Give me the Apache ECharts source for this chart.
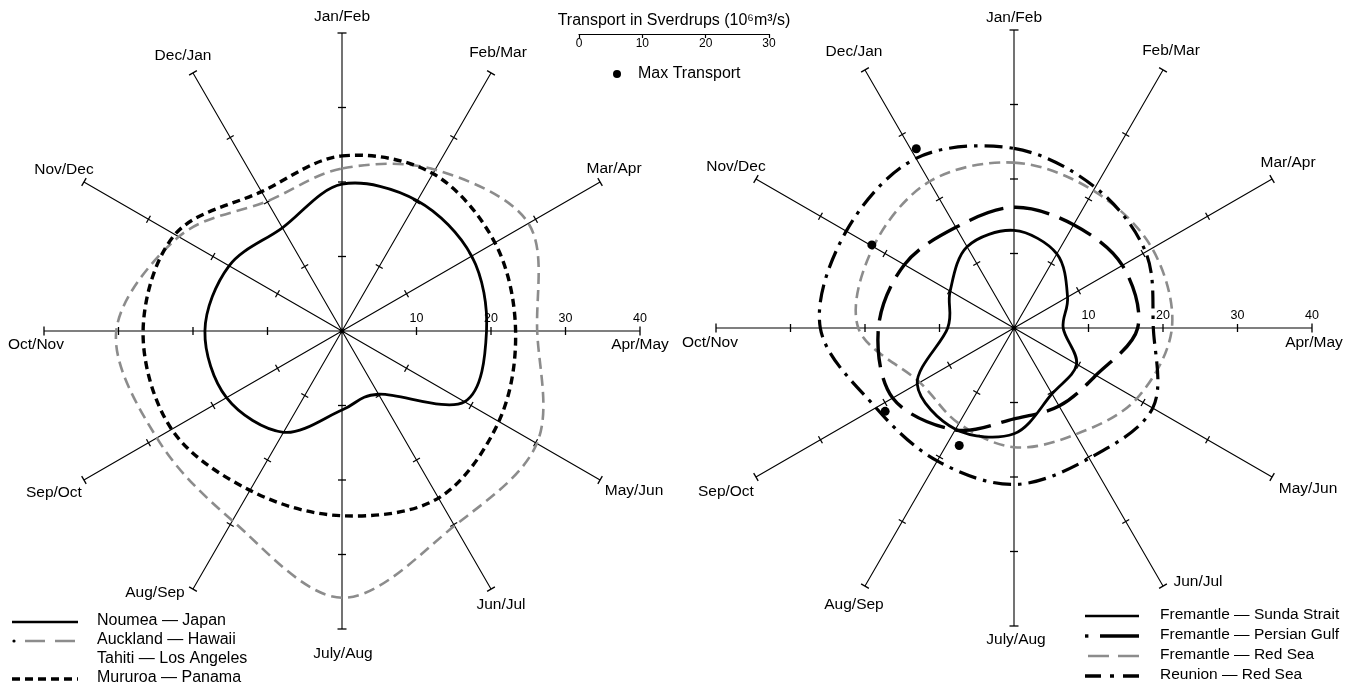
<!DOCTYPE html>
<html>
<head>
<meta charset="utf-8">
<title>Transport in Sverdrups</title>
<script src="https://cdn.jsdelivr.net/npm/echarts@6.0.0/dist/echarts.min.js"></script>
<style>
  html, body { margin: 0; padding: 0; background: #ffffff; }
  #chart { width: 1348px; height: 688px; }
</style>
</head>
<body>
<div id="chart"></div>
<script>
// Two-month periods, one spoke each, clockwise from the top
const months = ['Jan/Feb', 'Feb/Mar', 'Mar/Apr', 'Apr/May', 'May/Jun', 'Jun/Jul',
                'July/Aug', 'Aug/Sep', 'Sep/Oct', 'Oct/Nov', 'Nov/Dec', 'Dec/Jan'];
// Spoke direction in degrees, counter-clockwise from the right-hand axis
const monthAngles = [90, 60, 30, 0, 330, 300, 270, 240, 210, 180, 150, 120];

// Radial ticks / labels (Sverdrups) and the scale bar at the top
const radiusTicks = [10, 20, 30, 40];
const scaleTicks = [0, 10, 20, 30];

// Pacific routes (left rose), Sverdrups per period
const noumeaJapan    = [19.7, 20.2, 20.1, 19.4, 19.0, 9.8, 10.6, 15.7, 17.9, 18.4, 17.5, 16.0];
const aucklandHawaii = [21.8, 25.0, 28.9, 26.2, 30.2, 30.2, 35.8, 29.4, 28.7, 30.3, 25.3, 20.1];
const mururoaPanama  = [23.5, 24.4, 23.7, 23.3, 24.3, 25.9, 24.8, 24.7, 26.4, 26.7, 25.9, 21.6];

// Indian Ocean routes (right rose), Sverdrups per period
const fremantleSunda   = [13.1, 11.5, 8.3, 6.6, 9.7, 10.2, 14.2, 15.7, 15.0, 8.9, 9.9, 12.6];
const fremantlePersian = [16.2, 16.0, 16.8, 16.6, 12.7, 12.1, 12.2, 15.8, 18.8, 18.2, 17.0, 15.6];
const fremantleRedSea  = [22.2, 21.3, 21.4, 21.2, 19.0, 16.5, 16.0, 14.8, 14.6, 20.9, 21.8, 22.7];
const reunionRedSea    = [24.1, 21.8, 20.4, 18.7, 21.5, 20.2, 21.0, 20.6, 21.4, 26.0, 26.0, 26.3];

// Maximum transport markers: [Sverdrups, angle]
const maxTransport = [[27.4, 118.6], [22.1, 149.7], [20.6, 212.9], [17.4, 245.0]];

// Legend captions
const leftLegend = ['Noumea \u2014 Japan', 'Auckland \u2014 Hawaii', 'Tahiti \u2014 Los Angeles', 'Mururoa \u2014 Panama'];
const rightLegend = ['Fremantle \u2014 Sunda Strait', 'Fremantle \u2014 Persian Gulf', 'Fremantle \u2014 Red Sea', 'Reunion \u2014 Red Sea'];

const FONT = "'Liberation Sans', Arial, Helvetica, sans-serif";
const INK = '#000000';
const GREY = '#8c8c8c';
const R_MAX = radiusTicks[radiusTicks.length - 1];

// Month label placement around each rose: offset of text centre from spoke end
const leftLabelOffsets = [[0, -16], [7, -20], [14, -13], [0, 14], [34, 11], [10, 16],
                          [1, 25], [-38, 4], [-30, 13], [-8, 14], [-20, -12], [-10, -17]];
const rightLabelOffsets = [[0, -12], [8, -19], [16, -16], [2, 15], [36, 12], [35, -4],
                           [2, 14], [-11, 19], [-30, 15], [-6, 15], [-20, -12], [-11, -18]];

const chart = echarts.init(document.getElementById('chart'), null, { renderer: 'canvas' });

// Closed smooth loop through the monthly values (Catmull-Rom as cubic Béziers),
// positioned through the polar coordinate system.
function loopSeries(name, values, polarIndex, lineStyle) {
  return {
    type: 'custom',
    name: name,
    coordinateSystem: 'polar',
    polarIndex: polarIndex,
    data: values.map((v, i) => [v, monthAngles[i]]),
    renderItem: function (params, api) {
      if (params.dataIndex !== 0) return null;
      const pts = values.map((v, i) => api.coord([v, monthAngles[i]]));
      const n = pts.length;
      const f = (p) => p[0].toFixed(2) + ' ' + p[1].toFixed(2);
      let d = 'M' + f(pts[0]);
      for (let i = 0; i < n; i++) {
        const p0 = pts[(i - 1 + n) % n], p1 = pts[i], p2 = pts[(i + 1) % n], p3 = pts[(i + 2) % n];
        const c1 = [p1[0] + (p2[0] - p0[0]) / 6, p1[1] + (p2[1] - p0[1]) / 6];
        const c2 = [p2[0] - (p3[0] - p1[0]) / 6, p2[1] - (p3[1] - p1[1]) / 6];
        d += ' C' + f(c1) + ' ' + f(c2) + ' ' + f(p2);
      }
      d += ' Z';
      return {
        type: 'path',
        shape: { pathData: d },
        style: Object.assign({ fill: 'none', lineCap: 'butt', lineJoin: 'round' }, lineStyle),
        silent: true
      };
    },
    z: 5,
    silent: true
  };
}

// Cross ticks on every spoke, plus the end cap at the outer value
function spokeTicks(polarIndex) {
  const data = [];
  monthAngles.forEach((a) => radiusTicks.forEach((r) => data.push([r, a])));
  return {
    type: 'custom',
    coordinateSystem: 'polar',
    polarIndex: polarIndex,
    data: data,
    silent: true,
    z: 3,
    renderItem: function (params, api) {
      const r = api.value(0);
      const p = api.coord([r, api.value(1)]);
      const cs = params.coordSys;
      const dx = p[0] - cs.cx, dy = p[1] - cs.cy;
      const len = Math.sqrt(dx * dx + dy * dy) || 1;
      const nx = -dy / len, ny = dx / len;
      const half = r === R_MAX ? 4.5 : 4;
      return {
        type: 'line',
        shape: { x1: p[0] - nx * half, y1: p[1] - ny * half, x2: p[0] + nx * half, y2: p[1] + ny * half },
        style: { stroke: INK, lineWidth: 1.3 }
      };
    }
  };
}

// Period names at the outer end of each spoke
function monthLabels(polarIndex, offsets) {
  return {
    type: 'custom',
    coordinateSystem: 'polar',
    polarIndex: polarIndex,
    data: months.map((m, i) => [R_MAX, monthAngles[i]]),
    silent: true,
    z: 4,
    renderItem: function (params, api) {
      const i = params.dataIndex;
      const p = api.coord([api.value(0), api.value(1)]);
      return {
        type: 'text',
        x: p[0] + offsets[i][0],
        y: p[1] + offsets[i][1],
        style: {
          text: months[i],
          fill: INK,
          font: '15.5px ' + FONT,
          align: 'center',
          verticalAlign: 'middle'
        }
      };
    }
  };
}

function angleAxisFor(polarIndex) {
  return {
    polarIndex: polarIndex,
    type: 'value',
    min: 0,
    max: 360,
    interval: 30,
    startAngle: 0,
    clockwise: false,
    axisLine: { show: false },
    axisTick: { show: false },
    axisLabel: { show: false },
    splitLine: { show: true, lineStyle: { color: INK, width: 1.1 } }
  };
}

function radiusAxisFor(polarIndex) {
  return {
    polarIndex: polarIndex,
    type: 'value',
    min: 0,
    max: R_MAX,
    interval: radiusTicks[1] - radiusTicks[0],
    axisLine: { show: false },
    axisTick: { show: false },
    splitLine: { show: false },
    axisLabel: {
      show: true,
      margin: 6,
      color: INK,
      fontFamily: FONT,
      fontSize: 12.5,
      formatter: (v) => (radiusTicks.indexOf(v) >= 0 ? String(v) : '')
    },
    z: 6
  };
}

// Legend captions as text rows
function legendText(items, textX, rows, size) {
  return items.map((txt, i) => ({
    type: 'text', left: textX, top: rows[i] - 9,
    style: { text: txt, fill: INK, font: size + 'px ' + FONT }
  }));
}

const leftRows = [622, 641, 660, 679];
const rightRows = [616, 636, 656, 676];

const legendSamples = [
  // Noumea — Japan
  { type: 'line', shape: { x1: 12, y1: leftRows[0], x2: 78, y2: leftRows[0] }, style: { stroke: INK, lineWidth: 2.6 } },
  // Auckland — Hawaii
  { type: 'circle', shape: { cx: 14, cy: leftRows[1], r: 1.6 }, style: { fill: INK } },
  { type: 'line', shape: { x1: 25, y1: leftRows[1], x2: 78, y2: leftRows[1] }, style: { stroke: GREY, lineWidth: 2.6, lineDash: [20, 10] } },
  // Mururoa — Panama
  { type: 'line', shape: { x1: 12, y1: leftRows[3], x2: 78, y2: leftRows[3] }, style: { stroke: INK, lineWidth: 3.4, lineDash: [8, 5] } },
  // Fremantle — Sunda Strait
  { type: 'line', shape: { x1: 1085, y1: rightRows[0], x2: 1139, y2: rightRows[0] }, style: { stroke: INK, lineWidth: 2.6 } },
  // Fremantle — Persian Gulf
  { type: 'rect', shape: { x: 1085, y: rightRows[1] - 1.7, width: 3.4, height: 3.4 }, style: { fill: INK } },
  { type: 'line', shape: { x1: 1100, y1: rightRows[1], x2: 1139, y2: rightRows[1] }, style: { stroke: INK, lineWidth: 3.4 } },
  // Fremantle — Red Sea
  { type: 'line', shape: { x1: 1088, y1: rightRows[2], x2: 1139, y2: rightRows[2] }, style: { stroke: GREY, lineWidth: 2.6, lineDash: [21, 9] } },
  // Reunion — Red Sea
  { type: 'line', shape: { x1: 1085, y1: rightRows[3], x2: 1139, y2: rightRows[3] }, style: { stroke: INK, lineWidth: 3.4, lineDash: [16, 9, 4, 9, 16] } }
];

const option = {
  backgroundColor: '#ffffff',
  animation: false,
  title: {
    text: 'Transport in Sverdrups (10\u2076m\u00b3/s)',
    left: 'center',
    top: 8,
    textStyle: { fontFamily: FONT, fontSize: 16, fontWeight: 'normal', color: INK }
  },
  legend: {
    data: [{ name: 'Max Transport', icon: 'circle' }],
    left: 608,
    top: 61,
    itemWidth: 32,
    itemHeight: 8,
    selectedMode: false,
    textStyle: { fontFamily: FONT, fontSize: 16, color: INK }
  },
  polar: [
    { center: [342, 331], radius: 298 },
    { center: [1014, 328], radius: 298 }
  ],
  angleAxis: [angleAxisFor(0), angleAxisFor(1)],
  radiusAxis: [radiusAxisFor(0), radiusAxisFor(1)],
  // Scale bar under the title
  grid: { left: 579, top: 33, width: 190, height: 1 },
  xAxis: {
    type: 'value',
    gridIndex: 0,
    min: scaleTicks[0],
    max: scaleTicks[scaleTicks.length - 1],
    interval: scaleTicks[1] - scaleTicks[0],
    axisLine: { show: true, lineStyle: { color: INK, width: 1.2 } },
    axisTick: { show: true, length: 4, lineStyle: { color: INK, width: 1.2 } },
    axisLabel: { color: INK, fontFamily: FONT, fontSize: 12, margin: 4 },
    splitLine: { show: false }
  },
  yAxis: { type: 'value', gridIndex: 0, show: false },
  graphic: legendText(leftLegend, 97, leftRows, 16)
    .concat(legendText(rightLegend, 1160, rightRows, 15.5))
    .concat(legendSamples),
  series: [
    spokeTicks(0),
    spokeTicks(1),
    monthLabels(0, leftLabelOffsets),
    monthLabels(1, rightLabelOffsets),
    loopSeries('Auckland \u2014 Hawaii', aucklandHawaii, 0, { stroke: GREY, lineWidth: 2.6, lineDash: [11, 6] }),
    loopSeries('Mururoa \u2014 Panama', mururoaPanama, 0, { stroke: INK, lineWidth: 3.4, lineDash: [8, 5] }),
    loopSeries('Noumea \u2014 Japan', noumeaJapan, 0, { stroke: INK, lineWidth: 2.8 }),
    loopSeries('Fremantle \u2014 Red Sea', fremantleRedSea, 1, { stroke: GREY, lineWidth: 2.6, lineDash: [11, 6] }),
    loopSeries('Reunion \u2014 Red Sea', reunionRedSea, 1, { stroke: INK, lineWidth: 3.2, lineDash: [18, 7, 3.5, 7] }),
    loopSeries('Fremantle \u2014 Persian Gulf', fremantlePersian, 1, { stroke: INK, lineWidth: 3.4, lineDash: [36, 11] }),
    loopSeries('Fremantle \u2014 Sunda Strait', fremantleSunda, 1, { stroke: INK, lineWidth: 2.8 }),
    {
      type: 'scatter',
      name: 'Max Transport',
      coordinateSystem: 'polar',
      polarIndex: 1,
      symbol: 'circle',
      symbolSize: 9,
      itemStyle: { color: INK, opacity: 1 },
      data: maxTransport,
      z: 7
    }
  ]
};

chart.setOption(option);
</script>
</body>
</html>
